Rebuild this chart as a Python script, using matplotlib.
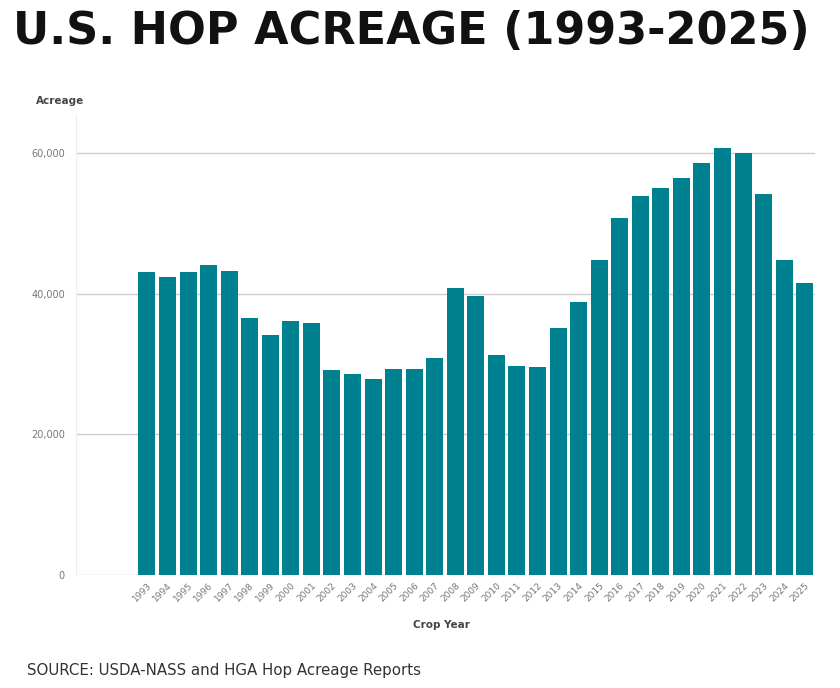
import matplotlib.pyplot as plt

years = list(range(1993, 2026))
acreage = [43100, 42400, 43100, 44100, 43200, 36500, 34100, 36100, 35800,
           29100, 28600, 27900, 29300, 29300, 30900, 40800, 39700, 31300,
           29700, 29600, 35100, 38800, 44800, 50800, 53900, 55000, 56400,
           58600, 60700, 60000, 54200, 44800, 41500]
yticks = [0, 20000, 40000, 60000]
ytick_labels = ["0", "20,000", "40,000", "60,000"]

bar_color = "#00818F"

fig = plt.figure(figsize=(8.4, 6.88), dpi=100)
ax = fig.add_axes([76 / 840, 1 - 575 / 688, (815 - 76) / 840, (575 - 115) / 688])

x = list(range(len(years)))
ax.bar(x, acreage, width=0.83, color=bar_color, zorder=3)

ax.set_xlim(-3.45, 32.5)
ax.set_ylim(0, 65400)
ax.set_yticks(yticks)
ax.set_yticklabels(ytick_labels, fontsize=7, color="#777777")
ax.set_xticks(x)
ax.set_xticklabels([str(y) for y in years], rotation=45, ha="right",
                   rotation_mode="anchor", fontsize=6.5, color="#777777")
ax.tick_params(axis="both", length=0, pad=8)
ax.tick_params(axis="x", pad=4)
ax.grid(axis="y", color="#cccccc", linewidth=1, zorder=0)

for s in ["top", "right", "bottom"]:
    ax.spines[s].set_visible(False)
ax.spines["left"].set_color("#eeeeee")

ax.set_xlabel("Crop Year", fontsize=7.5, fontweight="bold", color="#444444")
ax.xaxis.set_label_coords(0.495, -0.097)
fig.text(36 / 840, 1 - 101 / 688, "Acreage", fontsize=7.5, fontweight="bold",
         color="#444444", va="center")

fig.text(411 / 840, 1 - 31 / 688, "U.S. HOP ACREAGE (1993-2025)", fontsize=32,
         fontweight="bold", color="#111111", ha="center", va="center",
         family="DejaVu Sans")
fig.text(27 / 840, 1 - 670 / 688, "SOURCE: USDA-NASS and HGA Hop Acreage Reports",
         fontsize=10.8, color="#333333", va="center")

plt.savefig("out.png", dpi=100)
plt.close()
